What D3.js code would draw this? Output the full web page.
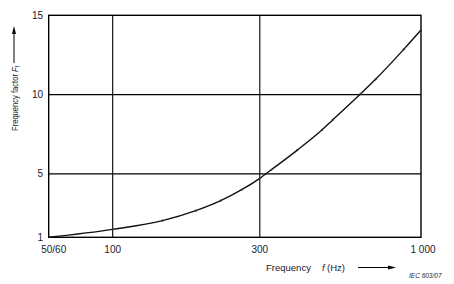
<!DOCTYPE html>
<html>
<head>
<meta charset="utf-8">
<script src="https://cdn.jsdelivr.net/npm/d3@7"></script>
<style>
  html, body { margin: 0; padding: 0; background: #fff; }
  svg { display: block; font-family: "Liberation Sans", Arial, sans-serif; }
</style>
</head>
<body>
<svg id="chart" width="454" height="284"></svg>
<script>
const freq = [62, 100, 145, 186, 224, 262, 300, 327, 397, 478, 517, 636, 712, 879, 1000];
const factor = [1.0, 1.5, 2.05, 2.68, 3.31, 4.0, 4.72, 5.26, 6.5, 7.78, 8.4, 10.03, 10.96, 12.85, 14.07];
const xTicks = [62, 100, 300, 1000];
const xTickLabels = ["50/60", "100", "300", "1 000"];
const yTicks = [1, 5, 10, 15];

const svg = d3.select("#chart");
const plotLeft = 48.7, plotRight = 421, plotTop = 15.3, plotBottom = 237.3;

const x = d3.scaleLog().domain([62, 1000]).range([plotLeft, plotRight]);
const y = d3.scaleLinear().domain([1, 15]).range([plotBottom, plotTop]);

// grid lines
svg.append("g")
  .selectAll("line")
  .data([100, 300])
  .enter()
  .append("line")
  .attr("x1", (d) => x(d)).attr("x2", (d) => x(d))
  .attr("y1", plotTop).attr("y2", plotBottom)
  .attr("stroke", "#000").attr("stroke-width", 1.1);

svg.append("g")
  .selectAll("line")
  .data([5, 10])
  .enter()
  .append("line")
  .attr("x1", plotLeft).attr("x2", plotRight)
  .attr("y1", (d) => y(d)).attr("y2", (d) => y(d))
  .attr("stroke", "#000").attr("stroke-width", 1.1);

// frame
svg.append("rect")
  .attr("x", plotLeft).attr("y", plotTop)
  .attr("width", plotRight - plotLeft).attr("height", plotBottom - plotTop)
  .attr("fill", "none").attr("stroke", "#000").attr("stroke-width", 1.4);

// curve
const pts = freq.map((f, i) => [f, factor[i]]);
svg.append("path")
  .datum(pts)
  .attr("fill", "none")
  .attr("stroke", "#111")
  .attr("stroke-width", 1.4)
  .attr("d", d3.line().x((d) => x(d[0])).y((d) => y(d[1])).curve(d3.curveMonotoneX));

svg.append("g")
  .selectAll("circle")
  .data(pts.slice(1, -1))
  .enter()
  .append("circle")
  .attr("cx", (d) => x(d[0]))
  .attr("cy", (d) => y(d[1]))
  .attr("r", 1.1)
  .attr("fill", "#333");

// y tick labels
svg.append("g")
  .selectAll("text")
  .data(yTicks)
  .enter()
  .append("text")
  .attr("x", 43)
  .attr("y", (d) => y(d) + 3.6)
  .attr("text-anchor", "end")
  .attr("font-size", 10)
  .attr("fill", "#1a1a2e")
  .text((d) => d);

// x tick labels
svg.append("g")
  .selectAll("text")
  .data(xTicks)
  .enter()
  .append("text")
  .attr("x", (d, i) => x(d) + (i === 0 ? 5 : i === 3 ? 2 : 0))
  .attr("y", 253)
  .attr("text-anchor", "middle")
  .attr("font-size", 10)
  .attr("fill", "#1a1a2e")
  .text((d, i) => xTickLabels[i]);

// x title
svg.append("text")
  .attr("x", 266).attr("y", 271)
  .attr("font-size", 9.5)
  .attr("fill", "#1a1a2e")
  .text("Frequency");
svg.append("text")
  .attr("x", 322).attr("y", 271)
  .attr("font-size", 9.5)
  .attr("font-style", "italic")
  .attr("fill", "#1a1a2e")
  .text("f");
svg.append("text")
  .attr("x", 327).attr("y", 271)
  .attr("font-size", 9.5)
  .attr("fill", "#1a1a2e")
  .text("(Hz)");

svg.append("line")
  .attr("x1", 358).attr("x2", 392)
  .attr("y1", 267.5).attr("y2", 267.5)
  .attr("stroke", "#000").attr("stroke-width", 1);
svg.append("path")
  .attr("d", "M396,267.5 L388,265.5 L388,269.5 Z")
  .attr("fill", "#000");

// y title
const yt = svg.append("text")
  .attr("transform", "translate(18,131) rotate(-90) scale(0.8,1)")
  .attr("font-size", 9.5)
  .attr("fill", "#1a1a2e");
yt.append("tspan").text("Frequency factor  ");
yt.append("tspan").attr("font-style", "italic").text("F");
yt.append("tspan").attr("font-size", 7).attr("dy", 2).text("f");

svg.append("line")
  .attr("x1", 14).attr("x2", 14)
  .attr("y1", 63).attr("y2", 31)
  .attr("stroke", "#000").attr("stroke-width", 1);
svg.append("path")
  .attr("d", "M14,26 L12,34 L16,34 Z")
  .attr("fill", "#000");

// reference tag
svg.append("text")
  .attr("x", 409).attr("y", 278)
  .attr("font-size", 6.5)
  .attr("font-style", "italic")
  .attr("fill", "#1a1a2e")
  .text("IEC   603/07");
</script>
</body>
</html>
